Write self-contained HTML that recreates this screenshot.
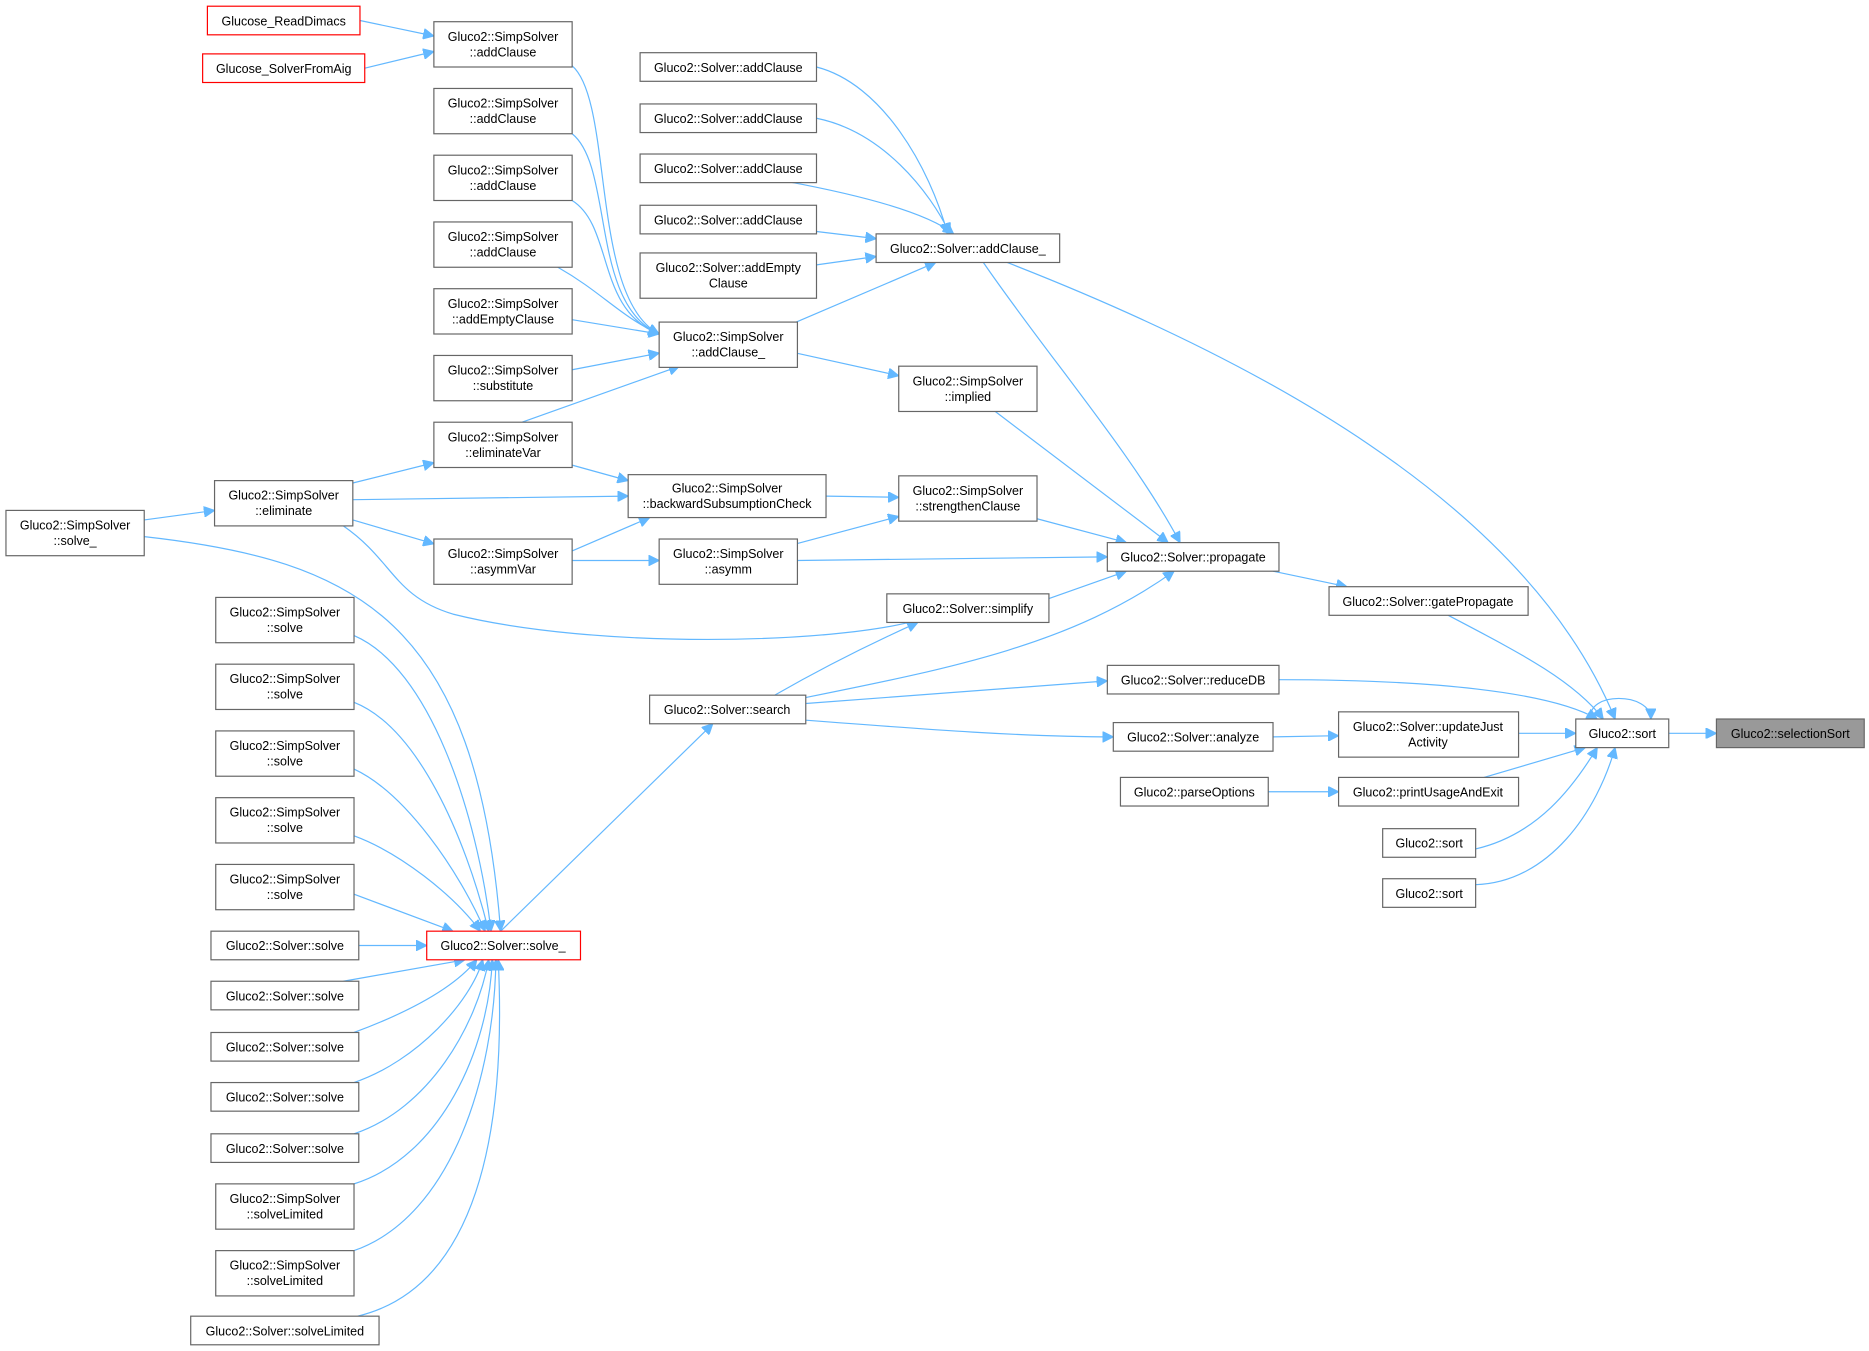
<!DOCTYPE html>
<html><head><meta charset="utf-8"><style>
html,body{margin:0;padding:0;background:#fff}
svg{display:block}
text{font-family:"Liberation Sans",Arial,sans-serif;font-size:10.5px;fill:#000;text-anchor:middle}
.b{fill:#fff;stroke:#666;stroke-width:1}
.r{fill:#fff;stroke:#f00;stroke-width:1}
.e{fill:none;stroke:#63b8ff;stroke-width:1}
</style></head><body>
<svg width="1869" height="1351" viewBox="0 0 1568 1133" xmlns="http://www.w3.org/2000/svg">
<defs><marker id="a" viewBox="0 0 10 10" refX="10" refY="5" markerWidth="9" markerHeight="9" markerUnits="userSpaceOnUse" orient="auto"><path d="M0,0L10,5L0,10z" fill="#63b8ff" stroke="#63b8ff"/></marker></defs>
<g class="e" marker-end="url(#a)">
<path d="M302,17L364,30"/>
<path d="M306,57L364,43"/>
<path d="M480,55C515,85 495,250 553,280"/>
<path d="M480,112C515,140 495,255 553,280"/>
<path d="M480,168C515,190 500,260 553,280"/>
<path d="M468,224C505,245 520,265 553,280"/>
<path d="M480,268L553,280"/>
<path d="M480,310L553,296"/>
<path d="M438,354L570,307"/>
<path d="M685,56C740,70 780,140 795,196"/>
<path d="M685,99C740,110 780,160 797,196"/>
<path d="M660,152C730,165 780,180 800,196"/>
<path d="M685,194L735,200"/>
<path d="M685,222L735,215"/>
<path d="M668,270L785,220"/>
<path d="M668,296L754,315"/>
<path d="M825,220C880,300 950,380 990,455"/>
<path d="M845,220C1050,300 1280,420 1355,603"/>
<path d="M835,345L980,455"/>
<path d="M870,435L945,455"/>
<path d="M693,416L754,417"/>
<path d="M668,456L754,433"/>
<path d="M668,470L929,467"/>
<path d="M296,405L364,388"/>
<path d="M296,419L527,416"/>
<path d="M296,436L364,456"/>
<path d="M480,390L527,403"/>
<path d="M480,462L545,434"/>
<path d="M480,470L553,470"/>
<path d="M121,436L180,428"/>
<path d="M121,450C300,470 400,520 420,781"/>
<path d="M288,441C330,470 330,500 380,515C500,545 700,540 770,520"/>
<path d="M880,502L945,479"/>
<path d="M650,583C690,560 730,540 770,522"/>
<path d="M676,585C800,560 900,540 985,479"/>
<path d="M676,590L929,571"/>
<path d="M676,604C780,612 860,618 934,618"/>
<path d="M420,781L598,607"/>
<path d="M1068,479L1130,492"/>
<path d="M1215,516C1270,545 1320,570 1345,603"/>
<path d="M1073,570C1200,570 1300,580 1340,603"/>
<path d="M1068,618L1123,617"/>
<path d="M1274,615L1322,615"/>
<path d="M1064,664L1123,664"/>
<path d="M1245,652L1330,627"/>
<path d="M1238,712C1290,700 1320,660 1340,627"/>
<path d="M1238,742C1300,740 1340,680 1355,627"/>
<path d="M1335,603C1330,580 1385,580 1385,603"/>
<path d="M1400,615L1440,615"/>
<path d="M297,533C360,560 400,680 412,781"/>
<path d="M297,589C350,610 390,700 410,781"/>
<path d="M297,645C340,665 385,730 407,781"/>
<path d="M297,701C335,715 380,750 403,781"/>
<path d="M297,750L380,781"/>
<path d="M301,793L358,793"/>
<path d="M288,823L390,805"/>
<path d="M297,866C340,850 380,830 400,805"/>
<path d="M297,908C350,890 395,840 405,805"/>
<path d="M297,951C360,930 400,860 410,805"/>
<path d="M297,993C370,970 410,880 413,805"/>
<path d="M297,1049C380,1020 415,900 416,805"/>
<path d="M300,1104C400,1080 425,950 418,805"/>
</g>
<g>
<rect class="r" x="174" y="5" width="128" height="24"/><text x="238" y="21">Glucose_ReadDimacs</text>
<rect class="r" x="170" y="45" width="136" height="24"/><text x="238" y="61">Glucose_SolverFromAig</text>
<rect class="b" x="364" y="18" width="116" height="38"/><text x="422" y="34">Gluco2::SimpSolver</text><text x="422" y="47">::addClause</text>
<rect class="b" x="364" y="74" width="116" height="38"/><text x="422" y="90">Gluco2::SimpSolver</text><text x="422" y="103">::addClause</text>
<rect class="b" x="364" y="130" width="116" height="38"/><text x="422" y="146">Gluco2::SimpSolver</text><text x="422" y="159">::addClause</text>
<rect class="b" x="364" y="186" width="116" height="38"/><text x="422" y="202">Gluco2::SimpSolver</text><text x="422" y="215">::addClause</text>
<rect class="b" x="364" y="242" width="116" height="38"/><text x="422" y="258">Gluco2::SimpSolver</text><text x="422" y="271">::addEmptyClause</text>
<rect class="b" x="364" y="298" width="116" height="38"/><text x="422" y="314">Gluco2::SimpSolver</text><text x="422" y="327">::substitute</text>
<rect class="b" x="364" y="354" width="116" height="38"/><text x="422" y="370">Gluco2::SimpSolver</text><text x="422" y="383">::eliminateVar</text>
<rect class="b" x="180" y="403" width="116" height="38"/><text x="238" y="419">Gluco2::SimpSolver</text><text x="238" y="432">::eliminate</text>
<rect class="b" x="5" y="428" width="116" height="38"/><text x="63" y="444">Gluco2::SimpSolver</text><text x="63" y="457">::solve_</text>
<rect class="b" x="364" y="452" width="116" height="38"/><text x="422" y="468">Gluco2::SimpSolver</text><text x="422" y="481">::asymmVar</text>
<rect class="b" x="527" y="398" width="166" height="36"/><text x="610" y="413">Gluco2::SimpSolver</text><text x="610" y="426">::backwardSubsumptionCheck</text>
<rect class="b" x="553" y="452" width="116" height="38"/><text x="611" y="468">Gluco2::SimpSolver</text><text x="611" y="481">::asymm</text>
<rect class="b" x="553" y="270" width="116" height="38"/><text x="611" y="286">Gluco2::SimpSolver</text><text x="611" y="299">::addClause_</text>
<rect class="b" x="537" y="44" width="148" height="24"/><text x="611" y="60">Gluco2::Solver::addClause</text>
<rect class="b" x="537" y="87" width="148" height="24"/><text x="611" y="103">Gluco2::Solver::addClause</text>
<rect class="b" x="537" y="129" width="148" height="24"/><text x="611" y="145">Gluco2::Solver::addClause</text>
<rect class="b" x="537" y="172" width="148" height="24"/><text x="611" y="188">Gluco2::Solver::addClause</text>
<rect class="b" x="537" y="212" width="148" height="38"/><text x="611" y="228">Gluco2::Solver::addEmpty</text><text x="611" y="241">Clause</text>
<rect class="b" x="735" y="196" width="154" height="24"/><text x="812" y="212">Gluco2::Solver::addClause_</text>
<rect class="b" x="754" y="307" width="116" height="38"/><text x="812" y="323">Gluco2::SimpSolver</text><text x="812" y="336">::implied</text>
<rect class="b" x="754" y="399" width="116" height="38"/><text x="812" y="415">Gluco2::SimpSolver</text><text x="812" y="428">::strengthenClause</text>
<rect class="b" x="929" y="455" width="144" height="24"/><text x="1001" y="471">Gluco2::Solver::propagate</text>
<rect class="b" x="744" y="498" width="136" height="24"/><text x="812" y="514">Gluco2::Solver::simplify</text>
<rect class="b" x="545" y="583" width="131" height="24"/><text x="610" y="599">Gluco2::Solver::search</text>
<rect class="b" x="1115" y="492" width="167" height="24"/><text x="1198" y="508">Gluco2::Solver::gatePropagate</text>
<rect class="b" x="929" y="558" width="144" height="24"/><text x="1001" y="574">Gluco2::Solver::reduceDB</text>
<rect class="b" x="934" y="606" width="134" height="24"/><text x="1001" y="622">Gluco2::Solver::analyze</text>
<rect class="b" x="1123" y="597" width="151" height="38"/><text x="1198" y="613">Gluco2::Solver::updateJust</text><text x="1198" y="626">Activity</text>
<rect class="b" x="940" y="652" width="124" height="24"/><text x="1002" y="668">Gluco2::parseOptions</text>
<rect class="b" x="1123" y="652" width="151" height="24"/><text x="1198" y="668">Gluco2::printUsageAndExit</text>
<rect class="b" x="1322" y="603" width="78" height="24"/><text x="1361" y="619">Gluco2::sort</text>
<rect x="1440" y="603" width="124" height="24" fill="#999" stroke="#666"/><text x="1502" y="619">Gluco2::selectionSort</text>
<rect class="b" x="1160" y="695" width="78" height="24"/><text x="1199" y="711">Gluco2::sort</text>
<rect class="b" x="1160" y="737" width="78" height="24"/><text x="1199" y="753">Gluco2::sort</text>
<rect class="b" x="181" y="501" width="116" height="38"/><text x="239" y="517">Gluco2::SimpSolver</text><text x="239" y="530">::solve</text>
<rect class="b" x="181" y="557" width="116" height="38"/><text x="239" y="573">Gluco2::SimpSolver</text><text x="239" y="586">::solve</text>
<rect class="b" x="181" y="613" width="116" height="38"/><text x="239" y="629">Gluco2::SimpSolver</text><text x="239" y="642">::solve</text>
<rect class="b" x="181" y="669" width="116" height="38"/><text x="239" y="685">Gluco2::SimpSolver</text><text x="239" y="698">::solve</text>
<rect class="b" x="181" y="725" width="116" height="38"/><text x="239" y="741">Gluco2::SimpSolver</text><text x="239" y="754">::solve</text>
<rect class="r" x="358" y="781" width="129" height="24"/><text x="422" y="797">Gluco2::Solver::solve_</text>
<rect class="b" x="177" y="781" width="124" height="24"/><text x="239" y="797">Gluco2::Solver::solve</text>
<rect class="b" x="177" y="823" width="124" height="24"/><text x="239" y="839">Gluco2::Solver::solve</text>
<rect class="b" x="177" y="866" width="124" height="24"/><text x="239" y="882">Gluco2::Solver::solve</text>
<rect class="b" x="177" y="908" width="124" height="24"/><text x="239" y="924">Gluco2::Solver::solve</text>
<rect class="b" x="177" y="951" width="124" height="24"/><text x="239" y="967">Gluco2::Solver::solve</text>
<rect class="b" x="181" y="993" width="116" height="38"/><text x="239" y="1009">Gluco2::SimpSolver</text><text x="239" y="1022">::solveLimited</text>
<rect class="b" x="181" y="1049" width="116" height="38"/><text x="239" y="1065">Gluco2::SimpSolver</text><text x="239" y="1078">::solveLimited</text>
<rect class="b" x="160" y="1104" width="158" height="24"/><text x="239" y="1120">Gluco2::Solver::solveLimited</text>
</g>
</svg>
</body></html>
